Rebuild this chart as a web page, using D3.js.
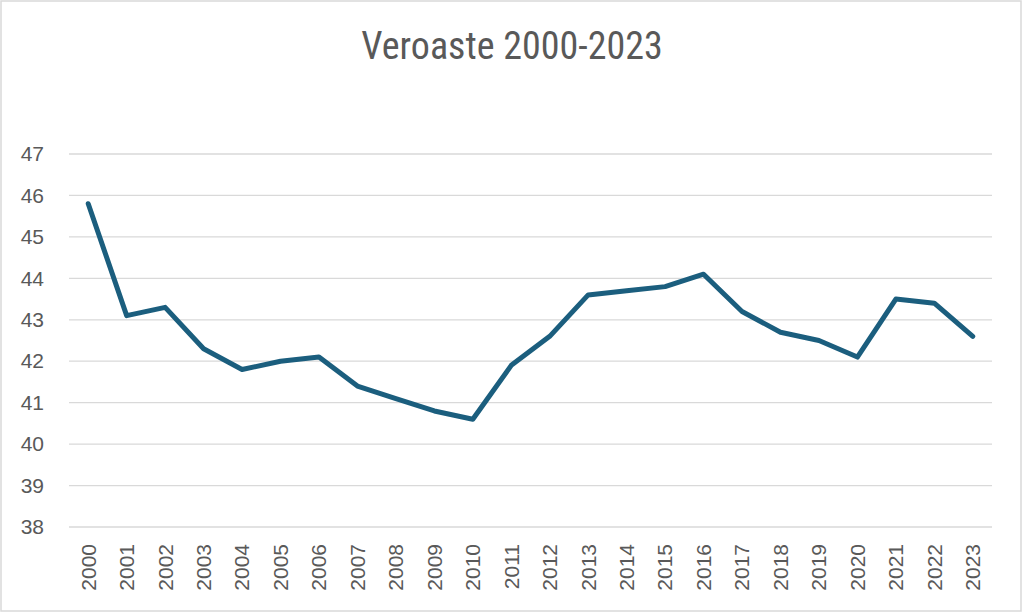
<!DOCTYPE html>
<html>
<head>
<meta charset="utf-8">
<script src="https://d3js.org/d3.v7.min.js"></script>
<style>
  body { margin: 0; background: #fff; }
</style>
</head>
<body>
<div id="chart"></div>
<script>
var years = ["2000","2001","2002","2003","2004","2005","2006","2007","2008","2009","2010","2011",
             "2012","2013","2014","2015","2016","2017","2018","2019","2020","2021","2022","2023"];
var veroaste = [45.8, 43.1, 43.3, 42.3, 41.8, 42.0, 42.1, 41.4, 41.1, 40.8, 40.6, 41.9,
                42.6, 43.6, 43.7, 43.8, 44.1, 43.2, 42.7, 42.5, 42.1, 43.5, 43.4, 42.6];
var yTicks = [38, 39, 40, 41, 42, 43, 44, 45, 46, 47];

var W = 1024, H = 614;
var margin = {top: 154, right: 32, bottom: 87, left: 69},
    width = W - margin.left - margin.right,
    height = H - margin.top - margin.bottom;

var svg = d3.select("#chart").append("svg")
    .attr("width", W).attr("height", H);

// outer border
svg.append("rect")
  .attr("x", 1).attr("y", 1).attr("width", W - 4).attr("height", H - 4)
  .attr("fill", "#fff").attr("stroke", "#d9d9d9").attr("stroke-width", 1.5);

svg.append("text")
  .attr("x", W / 2).attr("y", 59)
  .attr("text-anchor", "middle")
  .style("font-family", "'Liberation Sans Narrow', 'Roboto Condensed', 'Liberation Sans', sans-serif")
  .style("font-size", "38px")
  .style("fill", "#595959")
  .text("Veroaste 2000-2023");

var g = svg.append("g")
  .attr("transform", "translate(" + margin.left + "," + margin.top + ")");

var x = d3.scaleBand().domain(years).range([0, width]);
var y = d3.scaleLinear().domain([38, 47]).range([height, 0]);

// gridlines
g.selectAll(".grid")
  .data(yTicks)
  .enter().append("line")
    .attr("x1", 0).attr("x2", width)
    .attr("y1", function(d) { return y(d); })
    .attr("y2", function(d) { return y(d); })
    .attr("stroke", "#d9d9d9").attr("stroke-width", 1.3);

// y axis
var yAxis = g.append("g")
  .call(d3.axisLeft(y).tickValues(yTicks).tickSize(0).tickPadding(25));
yAxis.select(".domain").remove();
yAxis.selectAll("text")
  .style("font-family", "'Liberation Sans', Arial, sans-serif")
  .style("font-size", "21px")
  .style("fill", "#595959");

// x axis
var xAxis = g.append("g")
  .attr("transform", "translate(0," + height + ")")
  .call(d3.axisBottom(x).tickSize(0));
xAxis.select(".domain").remove();
xAxis.selectAll("text")
  .attr("transform", "rotate(-90)")
  .attr("x", -17).attr("y", 0).attr("dy", "0.35em")
  .style("text-anchor", "end")
  .style("font-family", "'Liberation Sans', Arial, sans-serif")
  .style("font-size", "21px")
  .style("fill", "#595959");

// line
var line = d3.line()
  .x(function(d, i) { return x(years[i]) + x.bandwidth() / 2; })
  .y(function(d) { return y(d); });

g.append("path")
  .datum(veroaste)
  .attr("d", line)
  .attr("fill", "none")
  .attr("stroke", "#1b5e7e")
  .attr("stroke-width", 5)
  .attr("stroke-linejoin", "round")
  .attr("stroke-linecap", "round");
</script>
</body>
</html>
